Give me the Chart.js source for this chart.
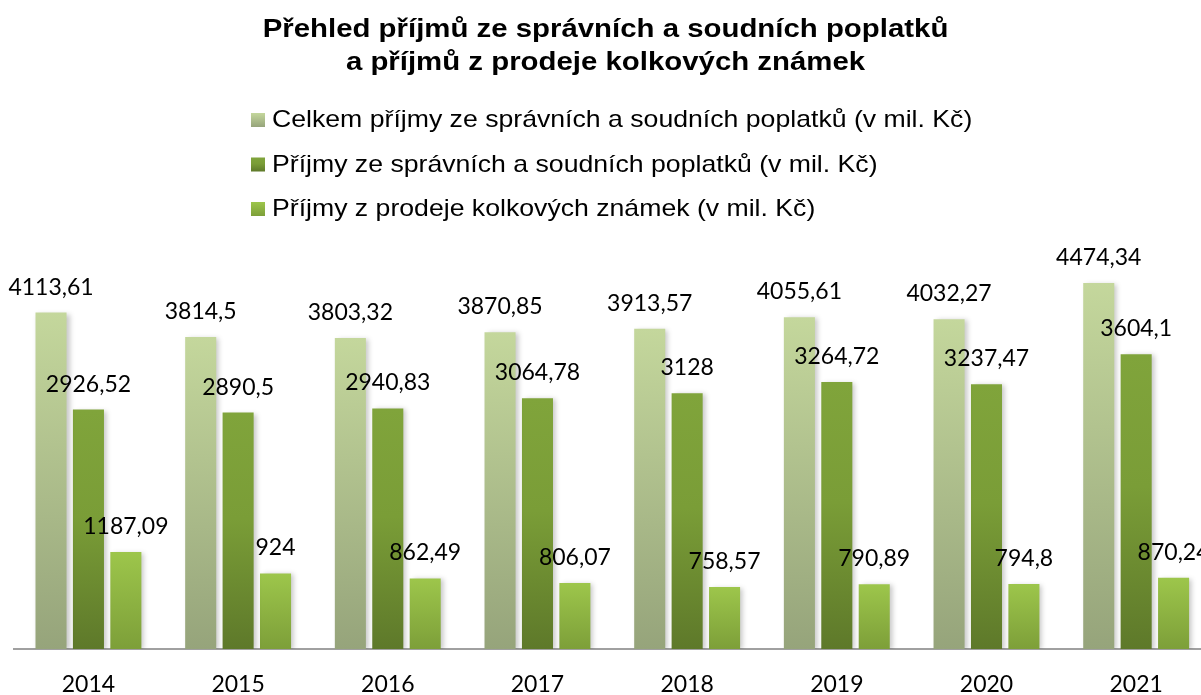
<!DOCTYPE html>
<html>
<head>
<meta charset="utf-8">
<script src="https://cdn.jsdelivr.net/npm/chart.js@4.4.1/dist/chart.umd.min.js"></script>
<style>
html,body{margin:0;padding:0;background:#fff;overflow:hidden;}
#wrap{position:relative;width:1214px;height:695px;}
</style>
</head>
<body>
<div id="wrap"><canvas id="c"></canvas></div>
<script>
const titleLines = ['Přehled příjmů ze správních a soudních poplatků', 'a příjmů z prodeje kolkových známek'];
const years = ['2014', '2015', '2016', '2017', '2018', '2019', '2020', '2021'];
const seriesNames = [
  'Celkem příjmy ze správních a soudních poplatků (v mil. Kč)',
  'Příjmy ze správních a soudních poplatků (v mil. Kč)',
  'Příjmy z prodeje kolkových známek (v mil. Kč)'
];
const totalValues = [4113.61, 3814.5, 3803.32, 3870.85, 3913.57, 4055.61, 4032.27, 4474.34];
const feeValues = [2926.52, 2890.5, 2940.83, 3064.78, 3128, 3264.72, 3237.47, 3604.1];
const stampValues = [1187.09, 924, 862.49, 806.07, 758.57, 790.89, 794.8, 870.24];

const gradStops = [
  [[0, '#c4d79c'], [1, '#96a47b']],
  [[0, '#80a43b'], [0.45, '#7a9d37'], [1, '#5e792a']],
  [[0, '#9dc64b'], [1, '#7d9f39']]
];

function barGradient(idx) {
  return function (ctx) {
    const chart = ctx.chart;
    const stops = gradStops[idx];
    if (ctx.type !== 'data' || !chart.chartArea || !chart.scales.y) return stops[0][1];
    const y = chart.scales.y;
    const top = y.getPixelForValue(ctx.raw);
    const base = y.getPixelForValue(0);
    if (!isFinite(top) || !isFinite(base) || top === base) return stops[0][1];
    const g = chart.ctx.createLinearGradient(0, top, 0, base);
    stops.forEach(s => g.addColorStop(s[0], s[1]));
    return g;
  };
}

function stretchedText(c, txt, x, y, align, sx) {
  c.save();
  c.translate(x, y);
  c.scale(sx, 1);
  c.textAlign = align;
  c.fillText(txt, 0, 0);
  c.restore();
}

const shadowPlugin = {
  id: 'barShadow',
  beforeDatasetsDraw(chart) {
    const c = chart.ctx;
    c.save();
    c.shadowColor = 'rgba(0,0,0,0.22)';
    c.shadowBlur = 5;
    c.shadowOffsetX = 3;
    c.shadowOffsetY = 1;
  },
  afterDatasetsDraw(chart) {
    chart.ctx.restore();
  }
};

const labelPlugin = {
  id: 'valueLabels',
  afterDatasetsDraw(chart) {
    const c = chart.ctx;
    c.save();
    c.font = '23px Lato';
    c.fillStyle = '#000';
    c.textAlign = 'center';
    c.textBaseline = 'alphabetic';
    chart.data.datasets.forEach((ds, i) => {
      const meta = chart.getDatasetMeta(i);
      meta.data.forEach((el, j) => {
        const txt = String(ds.data[j]).replace('.', ',');
        c.fillText(txt, el.x, el.y - 18);
      });
    });
    c.restore();
  }
};

const headerPlugin = {
  id: 'header',
  afterDraw(chart) {
    const c = chart.ctx;
    c.save();
    c.fillStyle = '#000';
    c.textBaseline = 'alphabetic';
    c.font = 'bold 26px "Liberation Sans"';
    const cx = 605.5;
    titleLines.forEach((t, i) => stretchedText(c, t, cx, 37 + i * 33, 'center', 1.13));

    const x0 = 251, y0 = 120, step = 44.5, box = 14;
    c.font = '24px "Liberation Sans"';
    chart.data.datasets.forEach((ds, i) => {
      const cy = y0 + i * step;
      const g = c.createLinearGradient(0, cy - box / 2, 0, cy + box / 2);
      gradStops[i].forEach(s => g.addColorStop(s[0], s[1]));
      c.fillStyle = g;
      c.fillRect(x0, cy - box / 2, box, box);
      c.fillStyle = '#000';
      stretchedText(c, ds.label, x0 + 21, cy + 7, 'left', 1.11);
    });
    c.restore();
  }
};

const datasets = [totalValues, feeValues, stampValues].map((vals, i) => ({
  label: seriesNames[i],
  data: vals,
  backgroundColor: barGradient(i),
  borderWidth: 0,
  categoryPercentage: 0.75,
  barPercentage: 0.83
}));

new Chart(document.getElementById('c'), {
  type: 'bar',
  data: { labels: years, datasets: datasets },
  plugins: [shadowPlugin, labelPlugin, headerPlugin],
  options: {
    responsive: true,
    maintainAspectRatio: false,
    animation: false,
    layout: { padding: { left: 13.6, right: 3, top: 240, bottom: 0 } },
    plugins: {
      legend: { display: false },
      tooltip: { enabled: false },
      title: { display: false }
    },
    scales: {
      x: {
        grid: { display: false, drawTicks: false },
        border: { display: true, color: '#a0a0a0', width: 2 },
        ticks: { color: '#000', font: { family: 'Lato', size: 23 }, padding: 22 },
        afterFit(scale) { scale.height = 46; }
      },
      y: {
        display: false,
        min: 0,
        max: 5000
      }
    }
  }
});
</script>
</body>
</html>
